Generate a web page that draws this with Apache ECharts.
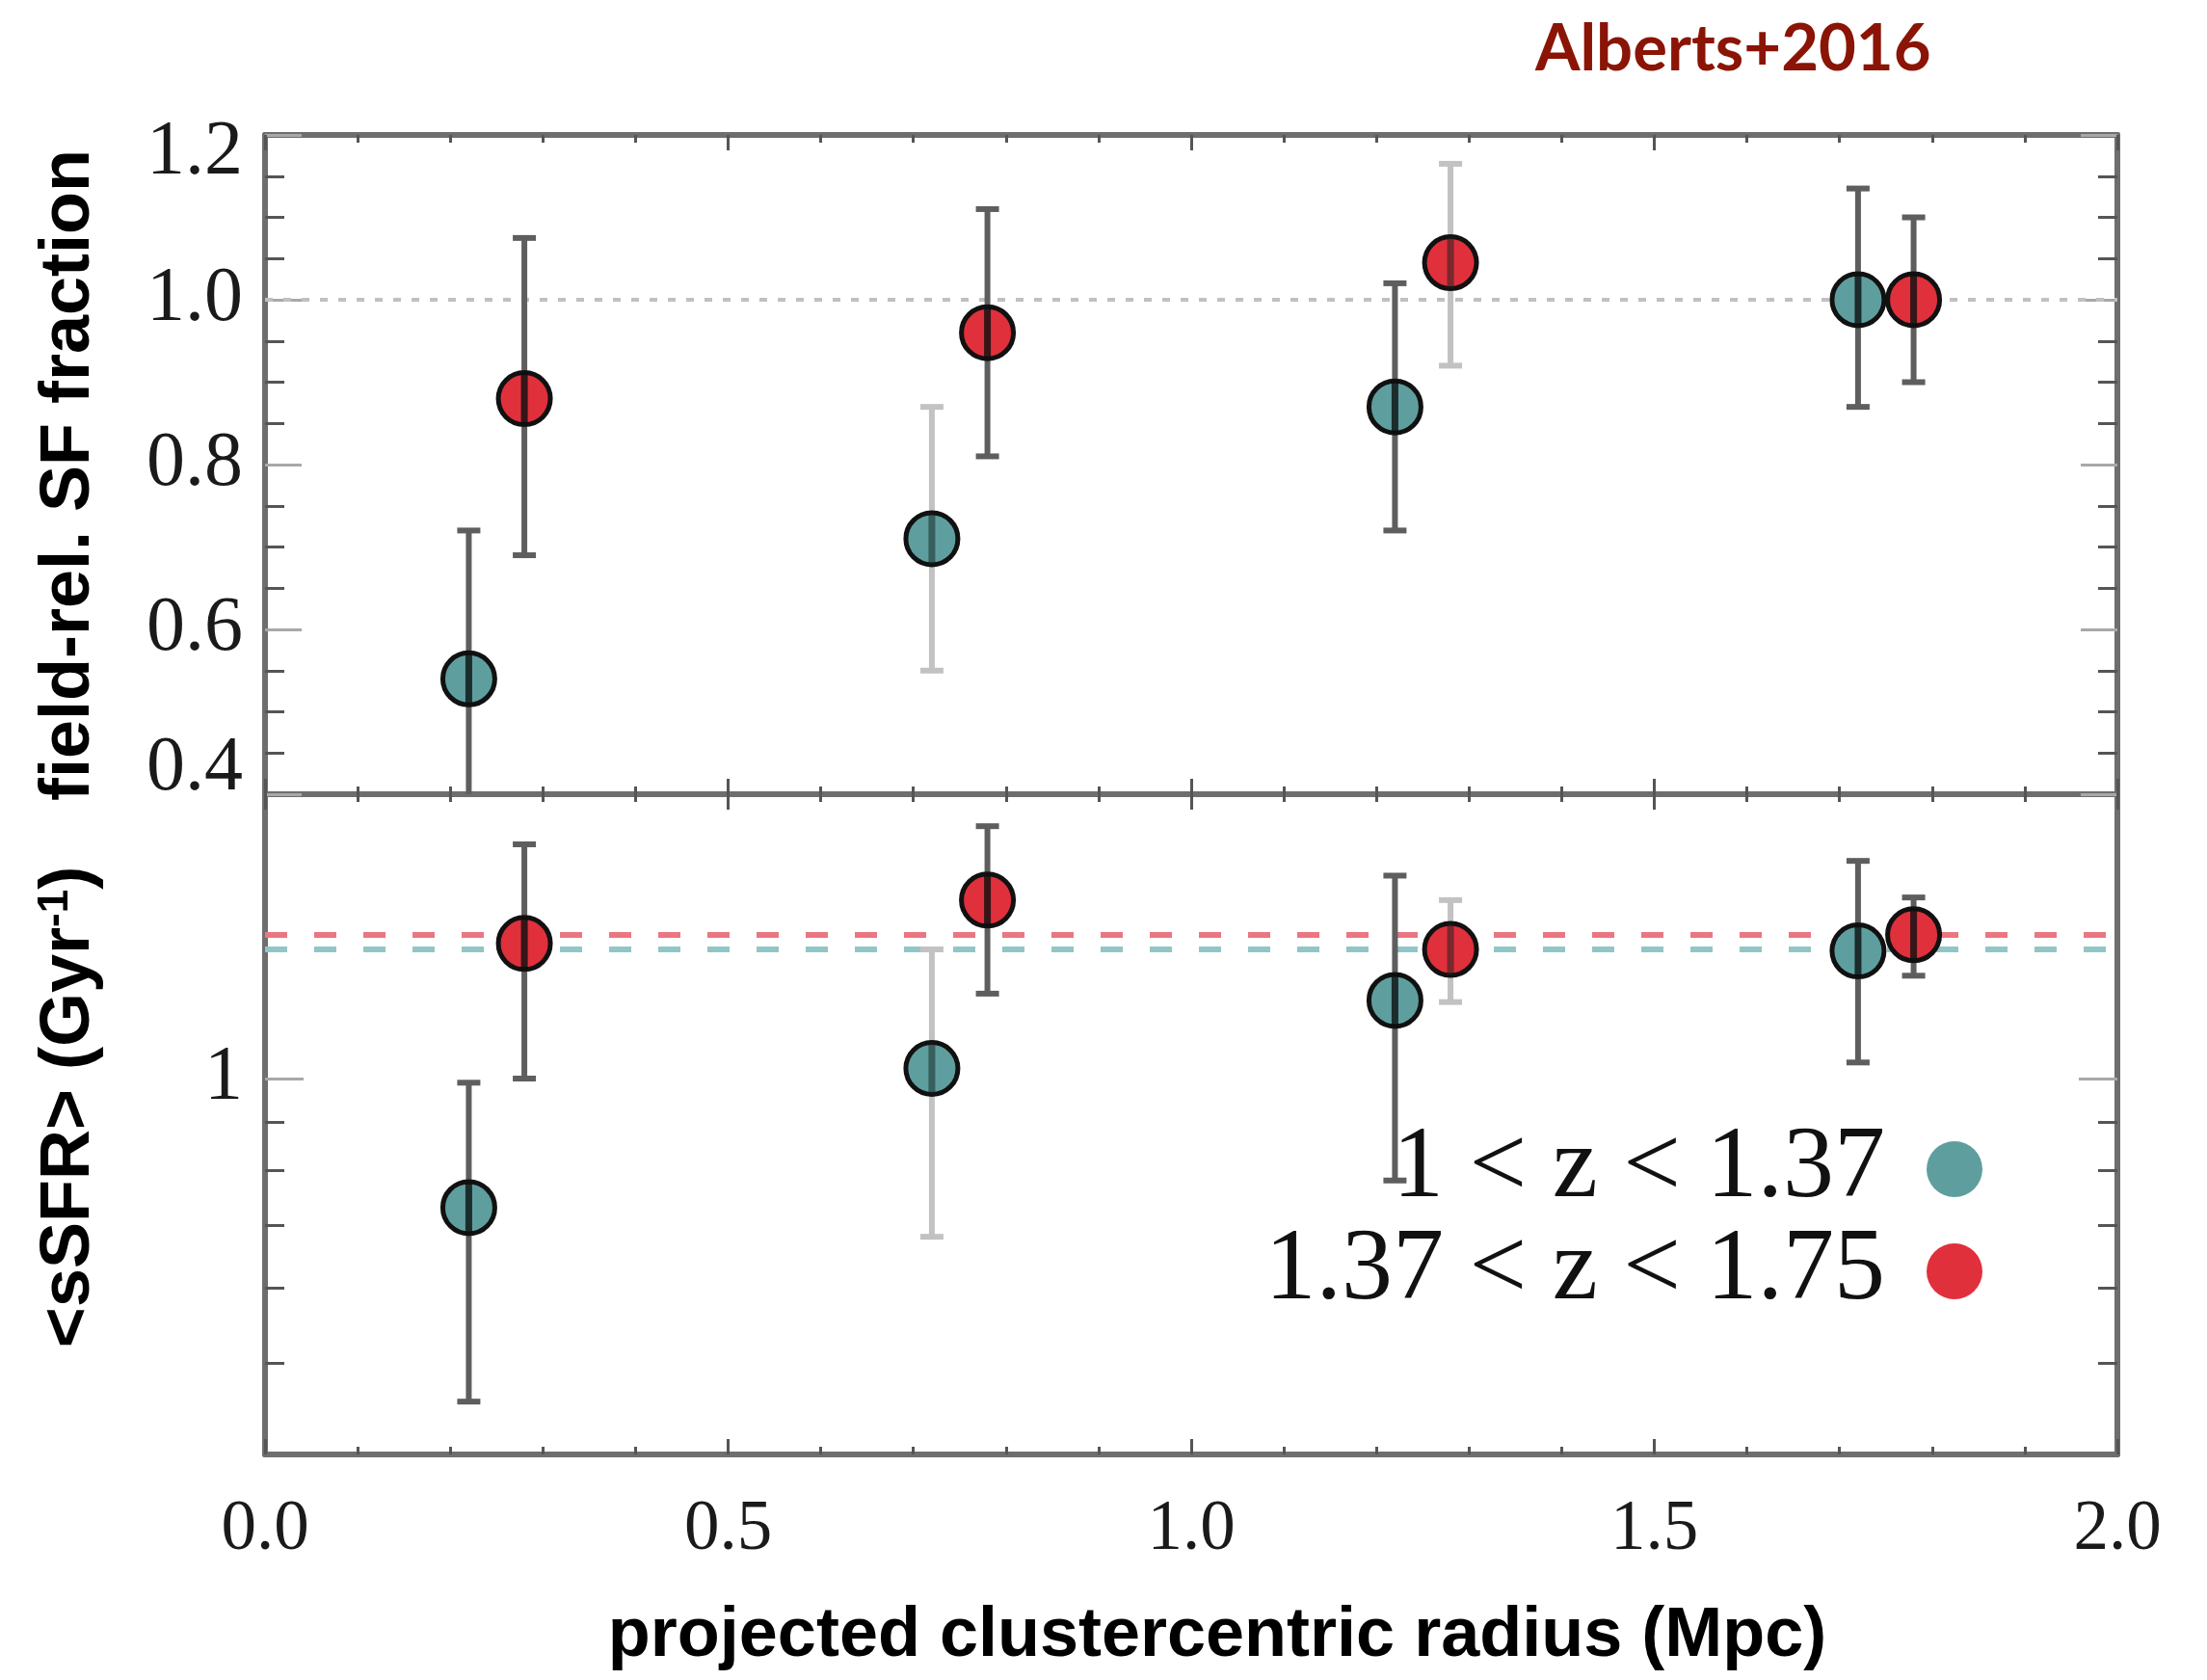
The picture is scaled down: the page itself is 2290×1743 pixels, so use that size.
<!DOCTYPE html>
<html>
<head>
<meta charset="utf-8">
<title>Star formation vs. clustercentric radius</title>
<script src="https://cdn.jsdelivr.net/npm/echarts@6.0.0/dist/echarts.min.js"></script>
<style>
  html, body { margin: 0; padding: 0; background: #ffffff; }
  #chart { width: 2290px; height: 1743px; }
</style>
</head>
<body>
<div id="chart"></div>
<script>
// ---- data ---------------------------------------------------------------
const seriesNames = ['1 < z < 1.37', '1.37 < z < 1.75'];

// projected clustercentric radius (Mpc), points offset per redshift bin
const radiusLowZ  = [0.22, 0.72, 1.22, 1.72];
const radiusHighZ = [0.28, 0.78, 1.28, 1.78];

// field-relative star-forming fraction
const sfFracLowZ     = [0.54, 0.71, 0.87, 1.00];
const sfFracLowZLo   = [0.36, 0.55, 0.72, 0.87];
const sfFracLowZHi   = [0.72, 0.87, 1.02, 1.135];
const sfFracHighZ    = [0.88, 0.96, 1.045, 1.00];
const sfFracHighZLo  = [0.69, 0.81, 0.92, 0.90];
const sfFracHighZHi  = [1.075, 1.11, 1.165, 1.10];

// mean specific SFR (Gyr^-1)
const ssfrLowZ     = [0.73, 1.025, 1.21, 1.365];
const ssfrLowZLo   = [0.455, 0.68, 0.78, 1.04];
const ssfrLowZHi   = [0.99, 1.37, 1.64, 1.70];
const ssfrHighZ    = [1.39, 1.545, 1.37, 1.42];
const ssfrHighZLo  = [1.00, 1.23, 1.205, 1.285];
const ssfrHighZHi  = [1.77, 1.85, 1.545, 1.555];

// field mean sSFR per redshift bin
const fieldSsfrLowZ  = 1.37;
const fieldSsfrHighZ = 1.42;

// axis ticks
const xRange = [0, 2];
const fracRange = [0.4, 1.2];
const ssfrRange = [0.4, 2];
const ssfrMajorTicks = [1];
const ssfrMinorTicks = [0.5, 0.6, 0.7, 0.8, 0.9];

// ---- styling ------------------------------------------------------------
const TEAL = '#5f9e9e';
const RED = '#e0303c';
const AXIS_LINE = { color: '#6e6e6e', width: 6 };
const TICK_DARK = { color: '#555555', width: 3 };
const TICK_LIGHT = { color: '#a8a8a8', width: 3 };
const SERIF = 'Liberation Serif';
const SANS = 'Liberation Sans';
const MARKER_RADIUS = 27;
// bars drawn in a lighter grey, per redshift bin
const FAINT_BAR = { low: 1, high: 2 };

const points = (xs, ys, lo, hi) => xs.map((x, i) => [x, ys[i], lo[i], hi[i]]);

function xAxisFor(gridIndex, position, withLabels, extra) {
  return Object.assign({
    type: 'value', gridIndex, position,
    min: xRange[0], max: xRange[1], interval: 0.5,
    axisLine: { show: true, onZero: false, lineStyle: AXIS_LINE },
    axisTick: { show: true, inside: true, length: 16, lineStyle: TICK_DARK },
    minorTick: { show: true, splitNumber: 5, length: 8, lineStyle: TICK_DARK },
    splitLine: { show: false },
    minorSplitLine: { show: false },
    axisLabel: withLabels ? {
      show: true, margin: 42, fontFamily: SERIF, fontSize: 73, color: '#1a1a1a',
      formatter: v => v.toFixed(1)
    } : { show: false }
  }, extra || {});
}

function fracAxis(position, withLabels, extra) {
  return Object.assign({
    type: 'value', gridIndex: 0, position,
    min: fracRange[0], max: fracRange[1], interval: 0.2,
    axisLine: { show: true, onZero: false, lineStyle: AXIS_LINE },
    axisTick: { show: true, inside: true, length: 38, lineStyle: TICK_LIGHT },
    minorTick: { show: true, splitNumber: 4, length: 20, lineStyle: TICK_DARK },
    splitLine: { show: false },
    minorSplitLine: { show: false },
    axisLabel: withLabels ? {
      show: true, margin: 23, fontFamily: SERIF, fontSize: 80, color: '#1a1a1a',
      formatter: v => {
        if (Math.abs(v - fracRange[1]) < 1e-6) return '{hi|' + v.toFixed(1) + '}';
        if (Math.abs(v - fracRange[0]) < 1e-6) return '{lo|' + v.toFixed(1) + '}';
        return v.toFixed(1);
      },
      rich: {
        hi: { fontFamily: SERIF, fontSize: 80, color: '#1a1a1a', padding: [38, 0, 0, 0] },
        lo: { fontFamily: SERIF, fontSize: 80, color: '#1a1a1a', padding: [0, 0, 52, 0] }
      }
    } : { show: false }
  }, extra || {});
}

function ssfrAxis(position, ticks, major, withLabels, extra) {
  return Object.assign({
    type: 'log', logBase: 10, gridIndex: 1, position,
    min: ssfrRange[0], max: ssfrRange[1],
    axisLine: { show: major, onZero: false, lineStyle: AXIS_LINE },
    axisTick: {
      show: true, inside: true, customValues: ticks,
      length: major ? 40 : 20, lineStyle: major ? TICK_LIGHT : TICK_DARK
    },
    minorTick: { show: false },
    splitLine: { show: false },
    axisLabel: withLabels ? {
      show: true, customValues: ssfrMajorTicks, margin: 23,
      fontFamily: SERIF, fontSize: 80, color: '#1a1a1a',
      formatter: v => String(Math.round(v))
    } : { show: false }
  }, extra || {});
}

// filled circle at the measured value, error bar with caps drawn across it
function pointWithBar(color, faintIndex) {
  return function (params, api) {
    const x = api.value(0);
    const c = api.coord([x, api.value(1)]);
    const bot = api.coord([x, api.value(2)]);
    const top = api.coord([x, api.value(3)]);
    const faint = params.dataIndex === faintIndex;
    const barStyle = { stroke: faint ? '#c2c2c2' : '#5e5e5e', lineWidth: 6, fill: null };
    const coreFill = faint ? 'rgba(20,30,30,0.5)' : 'rgba(10,15,15,0.8)';
    const cap = 12;
    const r = MARKER_RADIUS;
    return {
      type: 'group',
      children: [
        { type: 'line', z2: 1, shape: { x1: top[0], y1: top[1], x2: bot[0], y2: bot[1] }, style: barStyle },
        { type: 'line', z2: 1, shape: { x1: top[0] - cap, y1: top[1], x2: top[0] + cap, y2: top[1] }, style: barStyle },
        { type: 'line', z2: 1, shape: { x1: bot[0] - cap, y1: bot[1], x2: bot[0] + cap, y2: bot[1] }, style: barStyle },
        { type: 'circle', z2: 2, shape: { cx: c[0], cy: c[1], r },
          style: { fill: color, stroke: '#111111', lineWidth: 5 } },
        // the bar continues visibly through the marker
        { type: 'rect', z2: 3, shape: { x: c[0] - 3.5, y: c[1] - r, width: 7, height: 2 * r },
          style: { fill: coreFill } }
      ]
    };
  };
}

function pointSeries(name, color, axisIdx, data, faintIndex) {
  return {
    name, type: 'custom', xAxisIndex: axisIdx, yAxisIndex: axisIdx, data,
    encode: { x: 0, y: [1, 2, 3] }, clip: true, z: 5, silent: true,
    itemStyle: { color },
    renderItem: pointWithBar(color, faintIndex)
  };
}

function refLineSeries(axisIdx, value, color, dash, width) {
  return {
    type: 'line', xAxisIndex: axisIdx, yAxisIndex: axisIdx, data: [], z: 1, silent: true,
    markLine: {
      silent: true, symbol: 'none', animation: false,
      label: { show: false },
      lineStyle: { color, type: dash, width, opacity: 1 },
      emphasis: { disabled: true },
      data: [{ yAxis: value }]
    }
  };
}

const option = {
  animation: false,
  backgroundColor: '#ffffff',
  grid: [
    { left: 275, right: 93, top: 140, height: 684 },
    { left: 275, right: 93, top: 824, height: 685 }
  ],
  xAxis: [
    xAxisFor(0, 'bottom', false),
    xAxisFor(0, 'top', false),
    xAxisFor(1, 'bottom', true, {
      name: 'projected clustercentric radius (Mpc)',
      nameLocation: 'middle', nameGap: 153,
      nameTextStyle: { fontFamily: SANS, fontWeight: 'bold', fontSize: 72, color: '#000', padding: [0, 0, 0, 54] }
    }),
    xAxisFor(1, 'top', false)
  ],
  yAxis: [
    fracAxis('left', true, {
      name: 'field-rel. SF fraction',
      nameLocation: 'middle', nameGap: 167, nameRotate: 90,
      nameTextStyle: { fontFamily: SANS, fontWeight: 'bold', fontSize: 72, color: '#000', padding: [0, 22, 0, 0] }
    }),
    fracAxis('right', false),
    ssfrAxis('left', ssfrMajorTicks, true, true, {
      name: '<sSFR> (Gyr{sup|-1})',
      nameLocation: 'middle', nameGap: 167, nameRotate: 90,
      nameTextStyle: {
        fontFamily: SANS, fontWeight: 'bold', fontSize: 72, color: '#000', lineHeight: 72,
        padding: [0, 0, 0, 36],
        rich: { sup: { fontFamily: SANS, fontWeight: 'bold', fontSize: 44, lineHeight: 44, color: '#000', verticalAlign: 'top' } }
      }
    }),
    ssfrAxis('left', ssfrMinorTicks, false, false),
    ssfrAxis('right', ssfrMajorTicks, true, false),
    ssfrAxis('right', ssfrMinorTicks, false, false)
  ],
  legend: {
    show: true, orient: 'vertical', right: 233, top: 1160, padding: 0,
    align: 'right', itemGap: 0, icon: 'circle', itemWidth: 58, itemHeight: 58,
    selectedMode: false,
    textStyle: { fontFamily: SERIF, fontSize: 106, color: '#111111', lineHeight: 106, padding: [0, 38, 0, 0] },
    data: [
      { name: seriesNames[0], itemStyle: { color: TEAL, borderWidth: 0 } },
      { name: seriesNames[1], itemStyle: { color: RED, borderWidth: 0 } }
    ]
  },
  graphic: [
    {
      type: 'text', left: 1593, top: 18, silent: true,
      style: { text: 'Alberts+2016', font: 'bold 67px Lato', fill: '#8a1405' }
    }
  ],
  series: [
    // reference levels
    refLineSeries(0, 1.0, '#c0c0c0', [8, 11], 4),
    refLineSeries(2, fieldSsfrLowZ, '#92c6c6', [23, 28], 6),
    refLineSeries(2, fieldSsfrHighZ, '#ea7682', [23, 28], 6),
    // upper panel: star-forming fraction
    pointSeries(seriesNames[0], TEAL, 0, points(radiusLowZ, sfFracLowZ, sfFracLowZLo, sfFracLowZHi), FAINT_BAR.low),
    pointSeries(seriesNames[1], RED, 0, points(radiusHighZ, sfFracHighZ, sfFracHighZLo, sfFracHighZHi), FAINT_BAR.high),
    // lower panel: mean sSFR
    pointSeries(seriesNames[0], TEAL, 2, points(radiusLowZ, ssfrLowZ, ssfrLowZLo, ssfrLowZHi), FAINT_BAR.low),
    pointSeries(seriesNames[1], RED, 2, points(radiusHighZ, ssfrHighZ, ssfrHighZLo, ssfrHighZHi), FAINT_BAR.high)
  ]
};

const chart = echarts.init(document.getElementById('chart'), null, { renderer: 'canvas' });
chart.setOption(option);
</script>
</body>
</html>
